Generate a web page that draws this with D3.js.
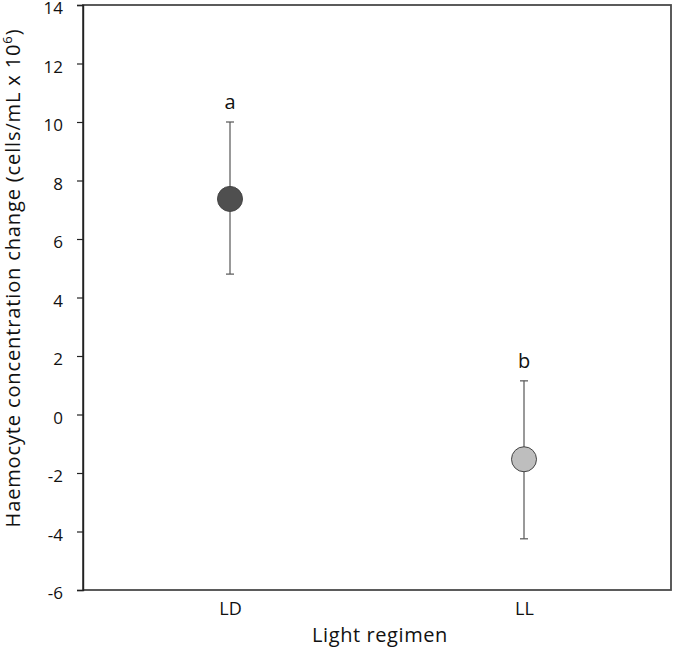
<!DOCTYPE html>
<html><head><meta charset="utf-8">
<script src="https://cdn.jsdelivr.net/npm/d3@7"></script>
<style>body{margin:0;background:#fff}</style>
</head><body>
<script>
const categories = ["LD", "LL"];
const means = [7.37, -1.53];
const upper = [10.0, 1.15];
const lower = [4.8, -4.25];
const letters = ["a", "b"];
const fills = ["#4f4f4f", "#bebebe"];
const yTicks = [-6, -4, -2, 0, 2, 4, 6, 8, 10, 12, 14];

const W = 673, H = 648;
const m = {left: 83, right: 2, top: 5, bottom: 58};
const FONT = "'Open Sans', sans-serif";
const svg = d3.select("body").append("svg").attr("width", W).attr("height", H)
  .style("font-family", FONT);

const x = d3.scalePoint().domain(categories).range([m.left, W - m.right]).padding(0.5);
const y = d3.scaleLinear().domain([-6, 14]).range([H - m.bottom, m.top]);

// frame
svg.append("rect").attr("x", m.left).attr("y", m.top)
  .attr("width", W - m.right - m.left).attr("height", H - m.bottom - m.top)
  .attr("fill", "none").attr("stroke", "#4a4a4a").attr("stroke-width", 1.8);

const yAxis = svg.append("g").attr("transform", `translate(${m.left},0)`)
  .call(d3.axisLeft(y).tickValues(yTicks).tickSize(6).tickPadding(14).tickFormat(d => String(d)));
yAxis.select(".domain").attr("stroke", "#222").attr("stroke-width", 1.4);
yAxis.selectAll(".tick line").attr("stroke", "#222").attr("stroke-width", 1.2);
yAxis.selectAll("text").attr("font-size", 17).attr("fill", "#111").attr("dy", "0.5em")
  .attr("font-family", FONT);

const xAxis = svg.append("g").attr("transform", `translate(0,${H - m.bottom})`)
  .call(d3.axisBottom(x).tickSize(0).tickPadding(12));
xAxis.select(".domain").remove();
xAxis.selectAll("text").attr("font-size", 18).attr("fill", "#111")
  .attr("font-family", FONT);

// error bars
const g = svg.append("g");
categories.forEach((c, i) => {
  const cx = x(c);
  g.append("line").attr("x1", cx).attr("x2", cx).attr("y1", y(upper[i])).attr("y2", y(lower[i]))
    .attr("stroke", "#555").attr("stroke-width", 1.2);
  [upper[i], lower[i]].forEach(v => {
    g.append("line").attr("x1", cx - 4).attr("x2", cx + 4).attr("y1", y(v)).attr("y2", y(v))
      .attr("stroke", "#555").attr("stroke-width", 1.2);
  });
  g.append("circle").attr("cx", cx).attr("cy", y(means[i])).attr("r", 12.5)
    .attr("fill", fills[i]).attr("stroke", "#444").attr("stroke-width", 1);
  g.append("text").attr("x", cx).attr("y", y(upper[i]) - 13).attr("text-anchor", "middle")
    .attr("font-size", 20).attr("fill", "#111").text(letters[i]);
});

const xt = svg.append("text").attr("x", 380).attr("y", 642)
  .attr("text-anchor", "middle").attr("font-size", 20).attr("fill", "#111").text("Light regimen");
const xb = xt.node().getBBox();
xt.attr("letter-spacing", ((136 - xb.width) / 13).toFixed(2));

const yt = svg.append("text").attr("transform", `translate(20,278) rotate(-90)`)
  .attr("text-anchor", "middle").attr("font-size", 20).attr("fill", "#111");
yt.append("tspan").text("Haemocyte concentration change (cells/mL x 10");
yt.append("tspan").attr("dy", -8).attr("font-size", 13).text("6");
yt.append("tspan").attr("dy", 8).text(")");
const bb = yt.node().getBBox();
yt.attr("letter-spacing", ((500 - bb.width) / 48).toFixed(2));
</script>
</body></html>
